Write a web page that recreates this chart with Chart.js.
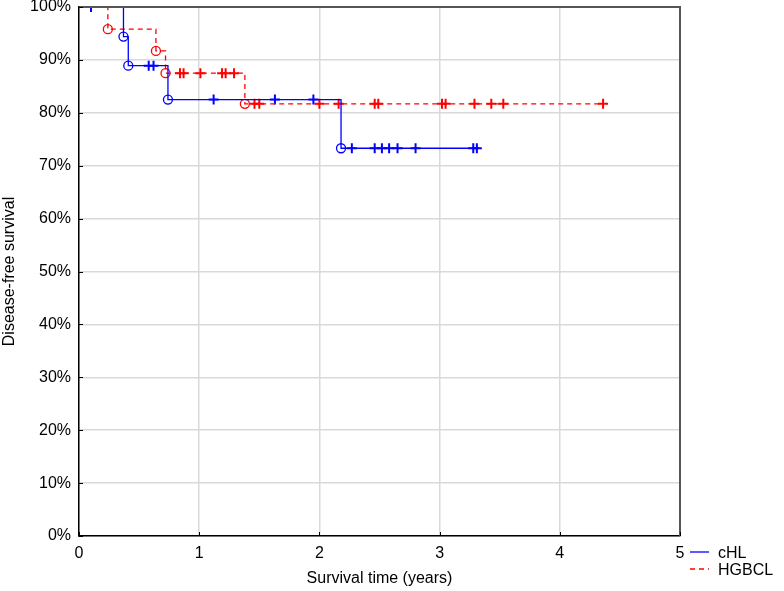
<!DOCTYPE html>
<html>
<head>
<meta charset="utf-8">
<script src="https://cdn.jsdelivr.net/npm/chart.js@4/dist/chart.umd.min.js"></script>
<style>
  html, body { margin: 0; padding: 0; background: #fff; }
  #wrap { width: 784px; height: 591px; }
</style>
</head>
<body>
<div id="wrap"><canvas id="chart" width="784" height="591"></canvas></div>
<script>
// axis ticks
const xTicks = [0, 1, 2, 3, 4, 5];
const yTicks = [0, 10, 20, 30, 40, 50, 60, 70, 80, 90, 100];

// cHL: event times (years) and survival (%) after each event
const chlEventTimes = [0.37, 0.41, 0.74, 2.18];
const chlEventSurv = [94.4, 88.9, 82.5, 73.3];
const chlCensorTimes = [0.10, 0.58, 0.62, 1.12, 1.63, 1.95, 2.27, 2.46, 2.52, 2.58, 2.65, 2.80, 3.28, 3.31];
const chlEnd = 3.33;

// HGBCL
const hgEventTimes = [0.24, 0.64, 0.72, 1.38];
const hgEventSurv = [95.8, 91.7, 87.5, 81.7];
const hgCensorTimes = [0.84, 0.87, 1.01, 1.19, 1.22, 1.29, 1.46, 1.50, 2.00, 2.16, 2.46, 2.49, 3.02, 3.05, 3.29, 3.43, 3.53, 4.36];
const hgEnd = 4.36;

const BLUE = "#0000ff";
const RED = "#ff0000";

// survival level at time t, from the event arrays
const survAt = (times, surv, t) => {
  let s = 100;
  times.forEach((et, i) => { if (et <= t) s = surv[i]; });
  return s;
};

const curve = (times, surv, end) => {
  const pts = [{ x: 0, y: 100 }];
  times.forEach((t, i) => pts.push({ x: t, y: surv[i] }));
  pts.push({ x: end, y: surv[surv.length - 1] });
  return pts;
};

const events = (times, surv) => times.map((t, i) => ({ x: t, y: surv[i] }));
const censors = (ctimes, times, surv) => ctimes.map((t) => ({ x: t, y: survAt(times, surv, t) }));

Chart.defaults.font.family = "'Liberation Sans', Arial, Helvetica, sans-serif";
Chart.defaults.font.size = 16;
Chart.defaults.color = "#000";

// frame, inward ticks and legend
const framePlugin = {
  id: "frame",
  afterDraw(chart) {
    const { ctx, chartArea: a, scales } = chart;
    ctx.save();
    ctx.strokeStyle = "#555";
    ctx.lineWidth = 2;
    ctx.beginPath();
    ctx.moveTo(a.left, a.top);
    ctx.lineTo(a.right, a.top);
    ctx.lineTo(a.right, a.bottom);
    ctx.stroke();

    ctx.strokeStyle = "#000";
    ctx.lineWidth = 1;
    yTicks.forEach((v) => {
      const y = Math.round(scales.y.getPixelForValue(v)) + 0.5;
      ctx.beginPath();
      ctx.moveTo(a.left, y);
      ctx.lineTo(a.left + 4, y);
      ctx.stroke();
    });
    xTicks.forEach((v) => {
      const x = Math.round(scales.x.getPixelForValue(v)) + 0.5;
      ctx.beginPath();
      ctx.moveTo(x, a.bottom);
      ctx.lineTo(x, a.bottom - 4);
      ctx.stroke();
    });

    // legend
    const lx = a.right + 10;
    const items = [
      { label: "cHL", color: BLUE, dash: [], y: a.bottom + 16 },
      { label: "HGBCL", color: RED, dash: [5, 4], y: a.bottom + 33 },
    ];
    ctx.font = "16px 'Liberation Sans', Arial, sans-serif";
    ctx.textBaseline = "middle";
    items.forEach((it) => {
      ctx.strokeStyle = it.color;
      ctx.lineWidth = 1.3;
      ctx.setLineDash(it.dash);
      ctx.beginPath();
      ctx.moveTo(lx, it.y);
      ctx.lineTo(lx + 19, it.y);
      ctx.stroke();
      ctx.setLineDash([]);
      ctx.fillStyle = "#000";
      ctx.fillText(it.label, lx + 28, it.y + 2);
    });
    ctx.restore();
  },
};

const ctx = document.getElementById("chart");
const chart = new Chart(ctx, {
  type: "scatter",
  data: {
    datasets: [
      {
        label: "cHL",
        data: curve(chlEventTimes, chlEventSurv, chlEnd),
        showLine: true,
        stepped: "before",
        borderColor: BLUE,
        borderWidth: 1.3,
        pointRadius: 0,
      },
      {
        label: "HGBCL",
        data: curve(hgEventTimes, hgEventSurv, hgEnd),
        showLine: true,
        stepped: "before",
        borderColor: RED,
        borderDash: [5, 4],
        borderWidth: 1.3,
        pointRadius: 0,
      },
      {
        label: "cHL events",
        data: events(chlEventTimes, chlEventSurv),
        pointStyle: "circle",
        pointRadius: 4.5,
        borderColor: BLUE,
        backgroundColor: "rgba(0,0,0,0)",
        borderWidth: 1.3,
      },
      {
        label: "HGBCL events",
        data: events(hgEventTimes, hgEventSurv),
        pointStyle: "circle",
        pointRadius: 4.5,
        borderColor: RED,
        backgroundColor: "rgba(0,0,0,0)",
        borderWidth: 1.3,
      },
      {
        label: "cHL censored",
        data: censors(chlCensorTimes, chlEventTimes, chlEventSurv),
        pointStyle: "cross",
        pointRadius: 5,
        borderColor: BLUE,
        borderWidth: 2,
      },
      {
        label: "HGBCL censored",
        data: censors(hgCensorTimes, hgEventTimes, hgEventSurv),
        pointStyle: "cross",
        pointRadius: 5,
        borderColor: RED,
        borderWidth: 2,
      },
    ],
  },
  options: {
    responsive: false,
    animation: false,
    devicePixelRatio: 1,
    layout: { padding: { left: 0, right: 104, top: 6, bottom: 0 } },
    plugins: {
      legend: { display: false },
      tooltip: { enabled: false },
    },
    scales: {
      x: {
        type: "linear",
        min: 0,
        max: 5,
        afterBuildTicks: (s) => { s.ticks = xTicks.map((v) => ({ value: v })); },
        ticks: { padding: 8 },
        grid: { color: "#d9d9d9", lineWidth: 1.5, drawTicks: false },
        border: { color: "#000", width: 1.5 },
        title: { display: true, text: "Survival time (years)", padding: { top: 0, bottom: 3 } },
        afterFit: (s) => { s.height = 55; s.paddingLeft = 0; s.paddingRight = 0; },
      },
      y: {
        min: 0,
        max: 100,
        afterBuildTicks: (s) => { s.ticks = yTicks.map((v) => ({ value: v })); },
        ticks: { padding: 8, callback: (v) => v + "%" },
        grid: { color: "#d9d9d9", lineWidth: 1.5, drawTicks: false },
        border: { color: "#000", width: 1.5 },
        title: { display: true, text: "Disease-free survival", padding: 0 },
        afterFit: (s) => { s.width = 79; s.paddingTop = 0; s.paddingBottom = 0; },
      },
    },
  },
  plugins: [framePlugin],
});
</script>
</body>
</html>
